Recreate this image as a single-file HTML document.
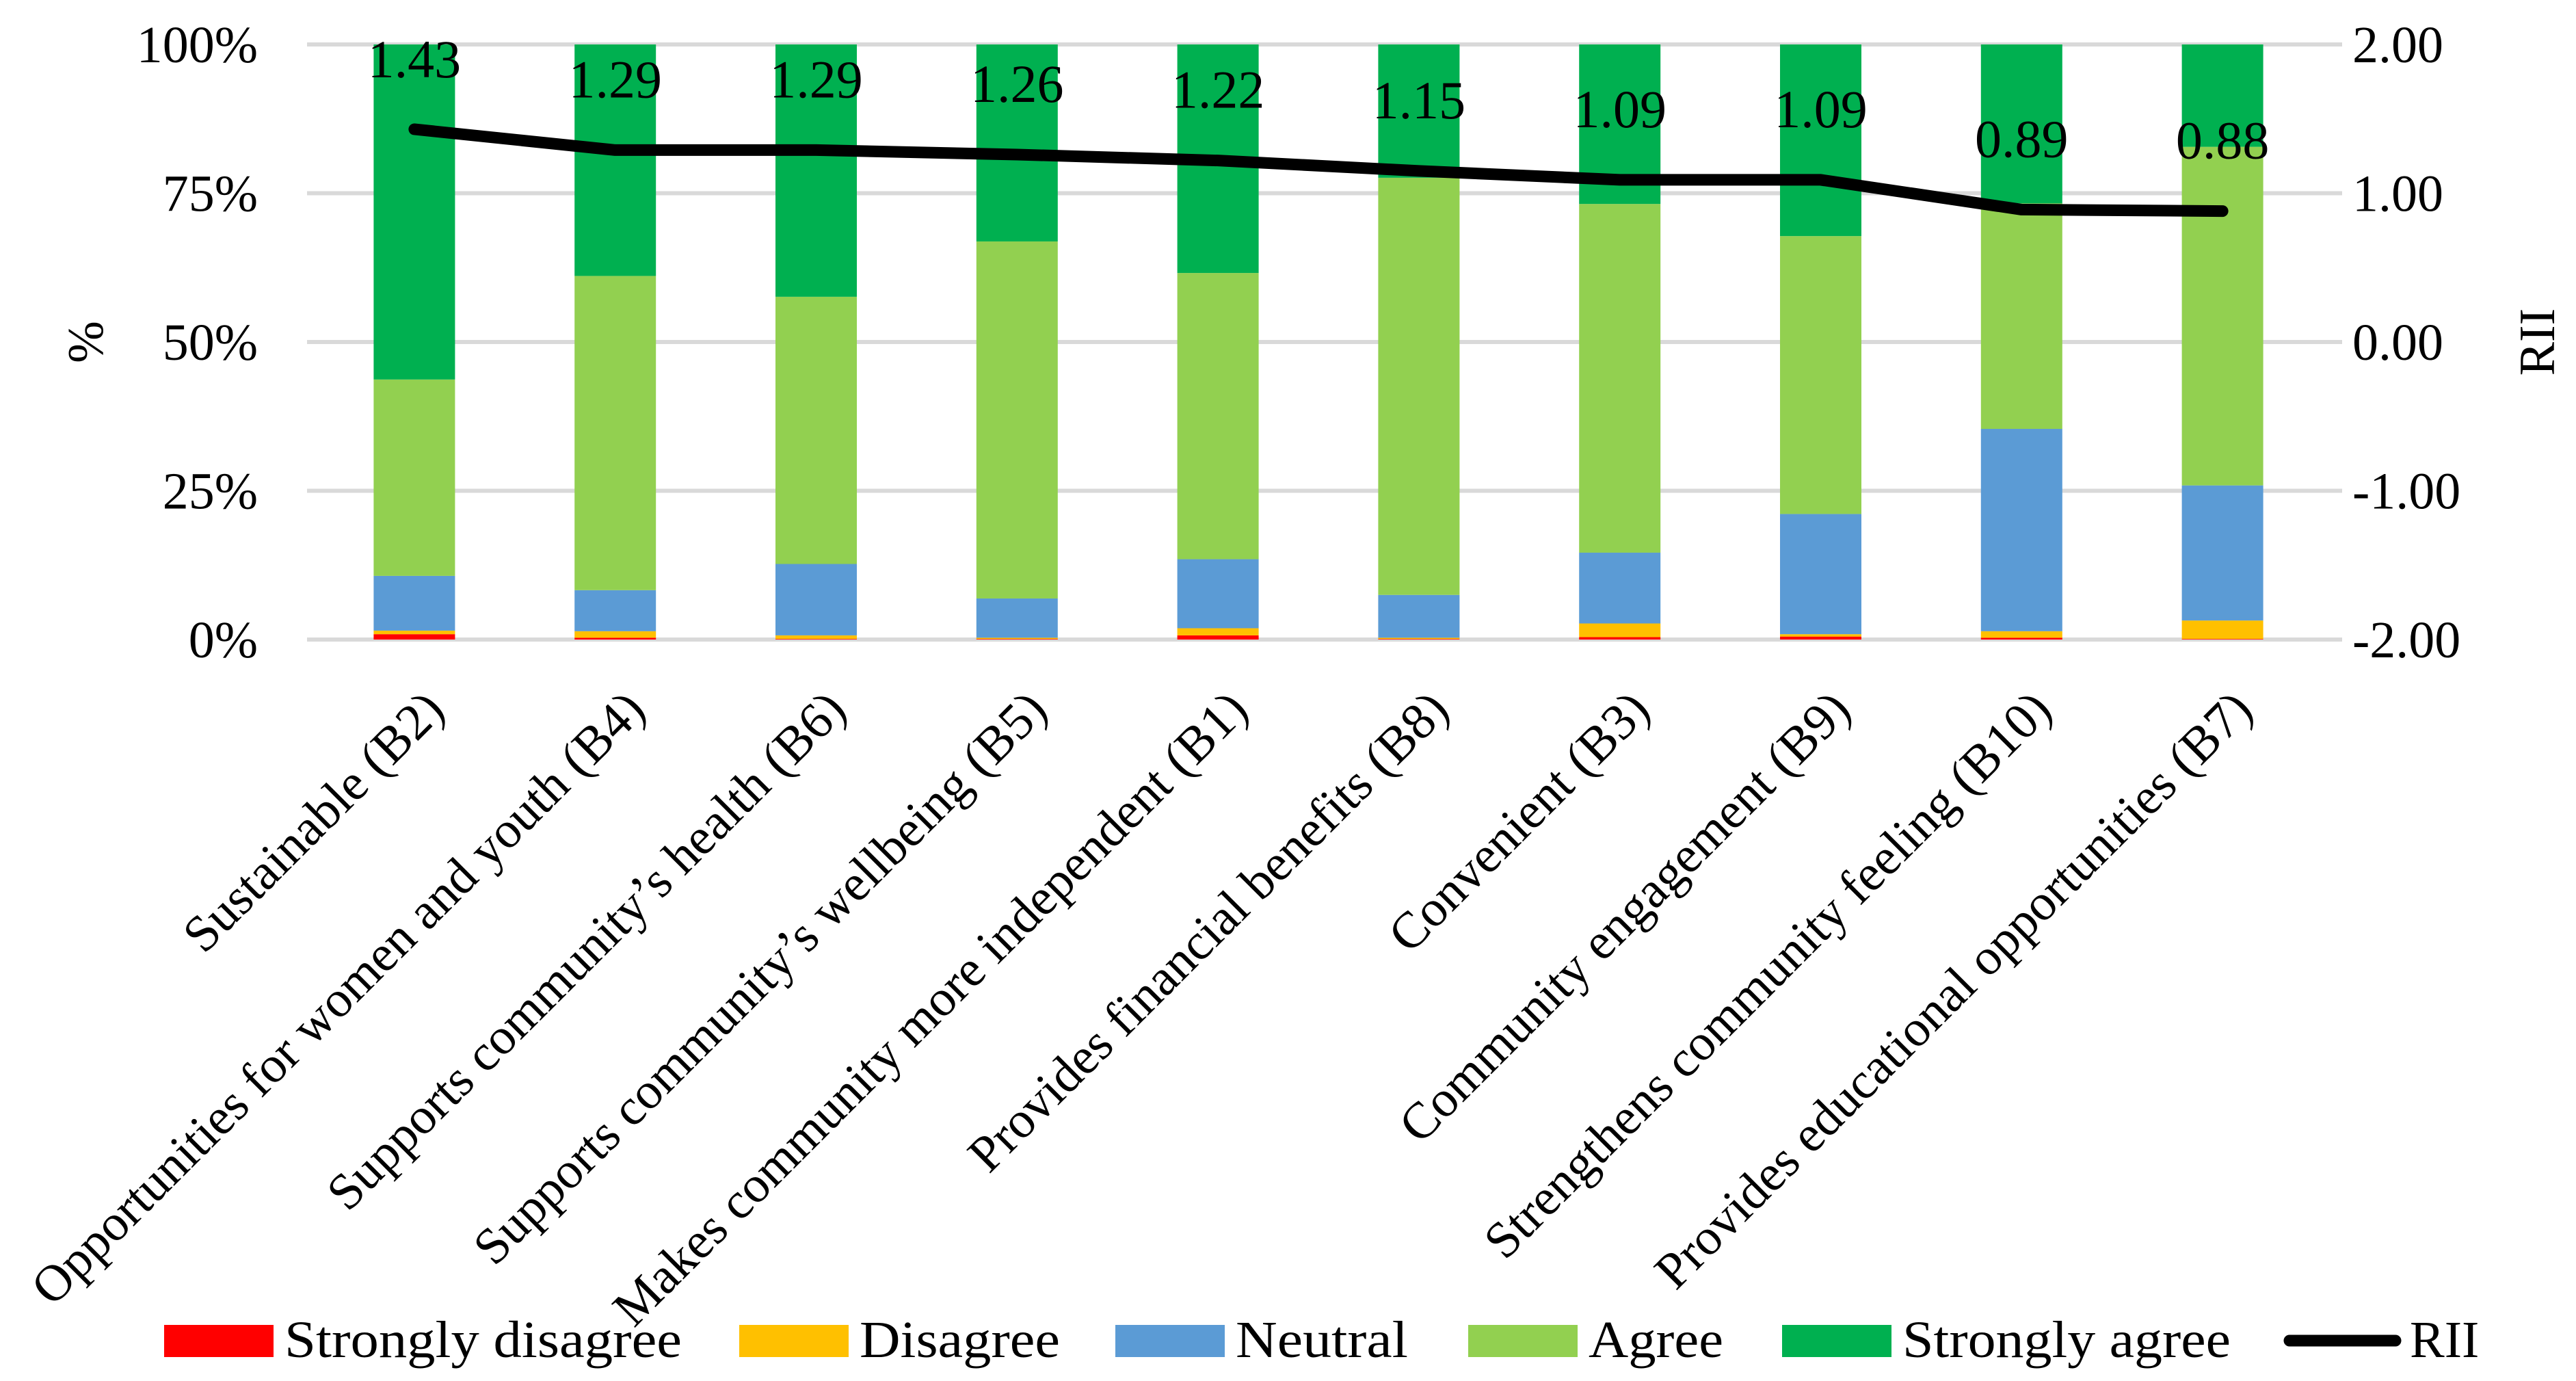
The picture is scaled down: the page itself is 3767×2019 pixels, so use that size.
<!DOCTYPE html>
<html><head><meta charset="utf-8"><style>
html,body{margin:0;padding:0;background:#fff;}
svg{display:block;font-family:"Liberation Serif",serif;}
</style></head><body>
<svg id="chart" width="3767" height="2019" viewBox="0 0 3767 2019" xmlns="http://www.w3.org/2000/svg">
<g id="grid"></g>
<g id="bars"></g>
<g id="line"></g>
<g id="labels"></g>
<text x="0" y="0" font-size="74" text-anchor="middle" transform="translate(150,500) rotate(-90)">%</text>
<text x="0" y="0" font-size="74" text-anchor="middle" transform="translate(3735,500) rotate(-90)">RII</text>
<g id="legend"></g>
</svg>
<script>
const categories=["Sustainable (B2)","Opportunities for women and youth (B4)","Supports community’s health (B6)","Supports community’s wellbeing (B5)","Makes community more independent (B1)","Provides financial benefits (B8)","Convenient (B3)","Community engagement (B9)","Strengthens community feeling (B10)","Provides educational opportunities (B7)"];
const stronglyDisagree=[0.9,0.3,0.1,0.1,0.7,0.1,0.4,0.5,0.3,0.1];
const disagree=[0.6,1.1,0.6,0.2,1.2,0.2,2.3,0.4,1.1,3.1];
const neutral=[9.2,6.9,12.0,6.6,11.6,7.2,11.9,20.2,34.0,22.7];
const agree=[33.0,52.8,44.9,60.0,48.1,70.1,58.6,46.7,37.9,56.9];
const stronglyAgree=[56.3,38.9,42.4,33.1,38.4,22.4,26.8,32.2,26.7,17.2];
const rii=[1.43,1.29,1.29,1.26,1.22,1.15,1.09,1.09,0.89,0.88];
const leftTicks=["0%","25%","50%","75%","100%"];
const leftTickValues=[0,25,50,75,100];
const rightTicks=["-2.00","-1.00","0.00","1.00","2.00"];
const rightTickValues=[-2,-1,0,1,2];
const seriesNames=["Strongly disagree","Disagree","Neutral","Agree","Strongly agree"];
const colors=["#FF0000","#FFC000","#5B9BD5","#92D050","#00B050"];
const NS="http://www.w3.org/2000/svg";
const L=459,R=3397,T=65,B=935;
const band=(R-L)/categories.length;
const xc=i=>L+band*(i+0.5);
const yPct=v=>B-(v/100)*(B-T);
const yRii=v=>B-((v+2)/4)*(B-T);
function mk(tag,parent){const e=document.createElementNS(NS,tag);document.getElementById(parent).appendChild(e);return e;}
leftTickValues.forEach((v,i)=>{
  const l=mk('line','grid');
  
  
  l.setAttribute('x1',L-10);l.setAttribute('x2',R+28);l.setAttribute('y1',yPct(v));l.setAttribute('y2',yPct(v));
  l.setAttribute('stroke','#D9D9D9');l.setAttribute('stroke-width','6');
  const t=mk('text','labels');
  
  
  t.setAttribute('x',377);t.setAttribute('y',yPct(v)+26);t.setAttribute('font-size','76');t.setAttribute('text-anchor','end');
  t.textContent=leftTicks[i];
});
rightTickValues.forEach((v,i)=>{
  const t=mk('text','labels');
  
  
  t.setAttribute('x',3440);t.setAttribute('y',yRii(v)+26);t.setAttribute('font-size','76');
  t.textContent=rightTicks[i];
});
const series=[stronglyDisagree,disagree,neutral,agree,stronglyAgree];
const bw=band*0.405;
categories.forEach((c,i)=>{
  let cum=0;
  series.forEach((s,k)=>{
    const r=mk('rect','bars');
    
    
    const y0=yPct(cum),y1=yPct(cum+s[i]);cum+=s[i];
    r.setAttribute('x',xc(i)-bw/2);r.setAttribute('width',bw);
    r.setAttribute('y',y1);r.setAttribute('height',Math.max(0,y0-y1));
    r.setAttribute('fill',colors[k]);
  });
  const t=mk('text','labels');
  
  
  t.setAttribute('font-size','75');t.setAttribute('text-anchor','end');t.setAttribute('dominant-baseline','central');
  t.setAttribute('transform','translate('+(xc(i)+30)+',1024) rotate(-45)');
  t.textContent=c;
});
const p=mk('polyline','line');


p.setAttribute('points',rii.map((v,i)=>xc(i)+','+yRii(v)).join(' '));
p.setAttribute('fill','none');p.setAttribute('stroke','#000');p.setAttribute('stroke-width','17');
p.setAttribute('stroke-linecap','round');p.setAttribute('stroke-linejoin','round');
rii.forEach((v,i)=>{
  const t=mk('text','labels');
  
  
  t.setAttribute('x',xc(i));t.setAttribute('y',Math.max(yRii(v)-105,85)+28);
  t.setAttribute('font-size','78');t.setAttribute('text-anchor','middle');
  t.textContent=v.toFixed(2);
});
const legX=[240,1081,1631,2147,2606];
const legW=[581,293,252,197,480];
seriesNames.forEach((n,k)=>{
  const r=mk('rect','legend');
  
  
  r.setAttribute('x',legX[k]);r.setAttribute('y',1937);r.setAttribute('width',160);r.setAttribute('height',47);r.setAttribute('fill',colors[k]);
  const t=mk('text','legend');
  
  
  t.setAttribute('x',legX[k]+176);t.setAttribute('y',1984);t.setAttribute('font-size','76');
  t.setAttribute('textLength',legW[k]);t.setAttribute('lengthAdjust','spacingAndGlyphs');
  t.textContent=n;
});
const ll=mk('line','legend');


ll.setAttribute('x1',3348);ll.setAttribute('x2',3503);ll.setAttribute('y1',1960);ll.setAttribute('y2',1960);
ll.setAttribute('stroke','#000');ll.setAttribute('stroke-width','17');ll.setAttribute('stroke-linecap','round');
const lt=mk('text','legend');


lt.setAttribute('x',3524);lt.setAttribute('y',1984);lt.setAttribute('font-size','76');
lt.textContent='RII';
</script>
</body></html>
